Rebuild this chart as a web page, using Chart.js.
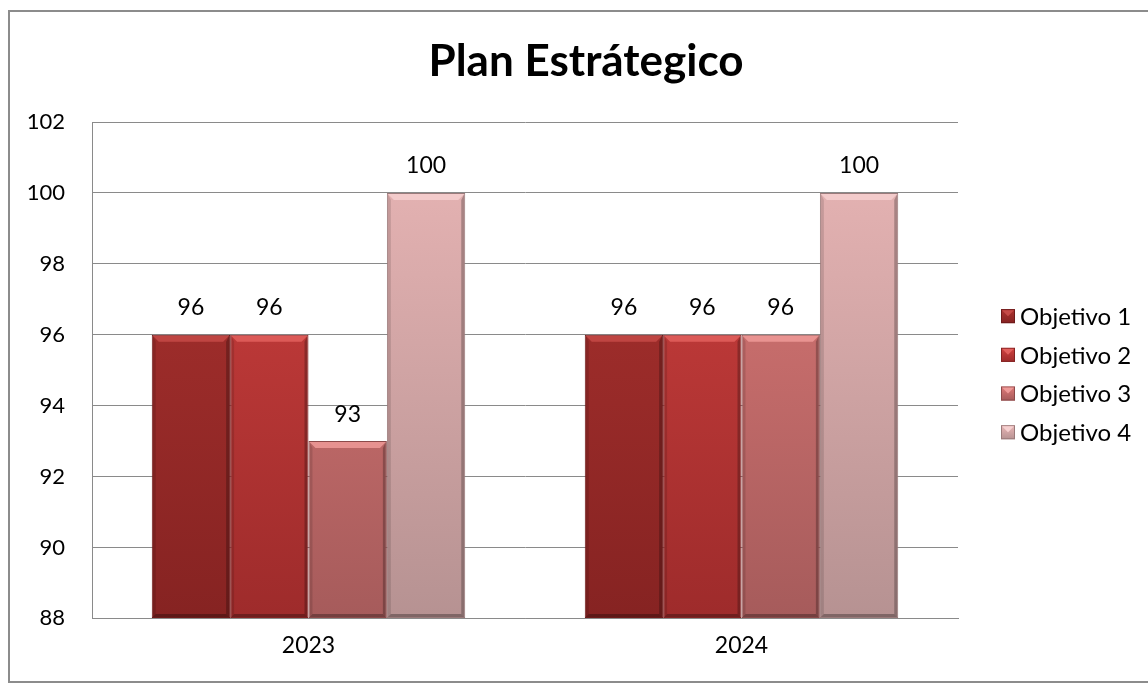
<!DOCTYPE html>
<html>
<head>
<meta charset="utf-8">
<script src="https://cdn.jsdelivr.net/npm/chart.js@4"></script>
<style>
html,body{margin:0;padding:0;background:#fff;}
#wrap{position:absolute;left:0;top:0;width:1148px;height:684px;}
</style>
</head>
<body>
<div id="wrap"><canvas id="c" width="1148" height="684"></canvas></div>
<script>
const categories = ['2023', '2024'];
const seriesNames = ['Objetivo 1', 'Objetivo 2', 'Objetivo 3', 'Objetivo 4'];
const objetivo1 = [96, 96];
const objetivo2 = [96, 96];
const objetivo3 = [93, 96];
const objetivo4 = [100, 100];
const yMin = 88, yMax = 102, yStep = 2;
const titleText = 'Plan Estrátegico';

const FONT = 'Lato, "Open Sans", sans-serif';
const palette = [
  {top:'#ad3330', bot:'#862322', bevel:'#c54a47', edge:'#6e1a1a', solid:'#9c2b2a'},
  {top:'#d04240', bot:'#9e2b2b', bevel:'#e2605d', edge:'#832222', solid:'#c23b39'},
  {top:'#df7a78', bot:'#a65b5b', bevel:'#ee9a98', edge:'#8c4a4a', solid:'#d06c6a'},
  {top:'#eab6b6', bot:'#b69292', bevel:'#f6d0d0', edge:'#9a7a7a', solid:'#dcaaaa'}
];

function gradFor(i){
  return function(ctx){
    const chart = ctx.chart; const a = chart.chartArea;
    if(!a) return palette[i].solid;
    const g = chart.ctx.createLinearGradient(0, a.top, 0, a.bottom);
    g.addColorStop(0, palette[i].top);
    g.addColorStop(1, palette[i].bot);
    return g;
  };
}

const allSeries = [objetivo1, objetivo2, objetivo3, objetivo4];
const datasets = allSeries.map((d, i) => ({
  label: seriesNames[i],
  data: d,
  base: yMin,
  backgroundColor: gradFor(i),
  borderColor: palette[i].edge,
  borderWidth: 1,
  borderSkipped: false
}));

const framePlugin = {
  id: 'frame',
  beforeDraw(chart){
    const c = chart.ctx;
    c.save();
    c.fillStyle = '#fff';
    c.fillRect(0,0,chart.width,chart.height);
    c.strokeStyle = '#8c8c8c';
    c.lineWidth = 2;
    c.strokeRect(9, 11, chart.width + 10, 671);
    c.restore();
  }
};

function drawBevel(c, l, t, r, b, bevelColor){
  const s = 7;
  c.save();
  c.fillStyle = bevelColor;
  c.globalAlpha = 0.85;
  c.beginPath();
  c.moveTo(l+1, t+1); c.lineTo(r-1, t+1); c.lineTo(r-s, t+s); c.lineTo(l+s, t+s); c.closePath();
  c.fill();
  c.fillStyle = '#000';
  c.globalAlpha = 0.25;
  c.beginPath();
  c.moveTo(r-1, t+1); c.lineTo(r-1, b-1); c.lineTo(r-4, b-4); c.lineTo(r-4, t+s); c.closePath();
  c.fill();
  c.globalAlpha = 0.12;
  c.beginPath();
  c.moveTo(l+1, t+1); c.lineTo(l+1, b-1); c.lineTo(l+4, b-4); c.lineTo(l+4, t+s); c.closePath();
  c.fill();
  c.globalAlpha = 0.3;
  c.beginPath();
  c.moveTo(l+1, b-1); c.lineTo(r-1, b-1); c.lineTo(r-4, b-4); c.lineTo(l+4, b-4); c.closePath();
  c.fill();
  c.restore();
}

const bevelPlugin = {
  id: 'bevel',
  afterDatasetsDraw(chart){
    const c = chart.ctx;
    const a = chart.chartArea;
    chart.data.datasets.forEach((ds, di) => {
      const meta = chart.getDatasetMeta(di);
      meta.data.forEach((bar) => {
        const l = bar.x - bar.width/2, r = bar.x + bar.width/2;
        const t = bar.y, b = Math.min(bar.base, a.bottom);
        drawBevel(c, l, t, r, b, palette[di].bevel);
      });
    });
  }
};

const labelPlugin = {
  id: 'valueLabels',
  afterDatasetsDraw(chart){
    const c = chart.ctx;
    c.save();
    c.font = '23px ' + FONT;
    c.fillStyle = '#000';
    c.textAlign = 'center';
    c.textBaseline = 'middle';
    chart.data.datasets.forEach((ds, di) => {
      const meta = chart.getDatasetMeta(di);
      meta.data.forEach((bar, i) => {
        c.fillText(String(ds.data[i]), bar.x, bar.y - 27);
      });
    });
    c.restore();
  }
};

// legend drawn in the space reserved on the right
const legendPlugin = {
  id: 'sideLegend',
  afterDraw(chart){
    const c = chart.ctx;
    const a = chart.chartArea;
    const n = chart.data.datasets.length;
    const spacing = 38.7;
    const cy = (a.top + a.bottom) / 2 + 4;
    const x0 = a.right + 43;
    c.save();
    c.font = '24px ' + FONT;
    c.textAlign = 'left';
    c.textBaseline = 'middle';
    chart.data.datasets.forEach((ds, i) => {
      const y = cy + (i - (n - 1) / 2) * spacing;
      const g = c.createLinearGradient(0, y - 7, 0, y + 7);
      g.addColorStop(0, palette[i].top); g.addColorStop(1, palette[i].bot);
      c.fillStyle = g;
      c.fillRect(x0, y - 7, 14, 14);
      c.strokeStyle = palette[i].edge; c.lineWidth = 1;
      c.strokeRect(x0 + 0.5, y - 6.5, 13, 13);
      c.fillStyle = palette[i].bevel;
      c.beginPath();
      c.moveTo(x0+1, y-6); c.lineTo(x0+13, y-6); c.lineTo(x0+7, y); c.closePath();
      c.fill();
      c.fillStyle = '#000';
      c.fillText(ds.label, x0 + 19, y + 1);
    });
    c.restore();
  }
};

new Chart(document.getElementById('c'), {
  type: 'bar',
  data: { labels: categories, datasets },
  plugins: [framePlugin, bevelPlugin, labelPlugin, legendPlugin],
  options: {
    responsive: false,
    animation: false,
    devicePixelRatio: 1,
    layout: { padding: { left: 24, right: 0, top: 30, bottom: 12 } },
    datasets: { bar: { categoryPercentage: 0.724, barPercentage: 1.0 } },
    plugins: {
      title: {
        display: true,
        text: titleText,
        font: { family: FONT, size: 44, weight: 'bold' },
        color: '#000',
        padding: { top: 5.6, bottom: 33.6 }
      },
      legend: { display: false },
      tooltip: { enabled: false }
    },
    scales: {
      x: {
        grid: { display: false, drawTicks: false },
        border: { display: true, color: '#8a8a8a', width: 1 },
        ticks: { color: '#000', font: { family: FONT, size: 23 }, padding: 13 }
      },
      y: {
        min: yMin, max: yMax,
        afterFit(scale){ scale.width = 68; },
        grid: { color: '#8a8a8a', lineWidth: 1, drawTicks: false },
        border: { display: true, color: '#8a8a8a', width: 1 },
        ticks: { stepSize: yStep, color: '#000', font: { family: FONT, size: 22 }, padding: 27 }
      },
      legendSpace: {
        type: 'linear',
        position: 'right',
        display: true,
        min: 0, max: 1,
        afterFit(scale){ scale.width = 190; },
        grid: { display: false, drawTicks: false },
        border: { display: false },
        ticks: { display: false }
      }
    }
  }
});
</script>
</body>
</html>
